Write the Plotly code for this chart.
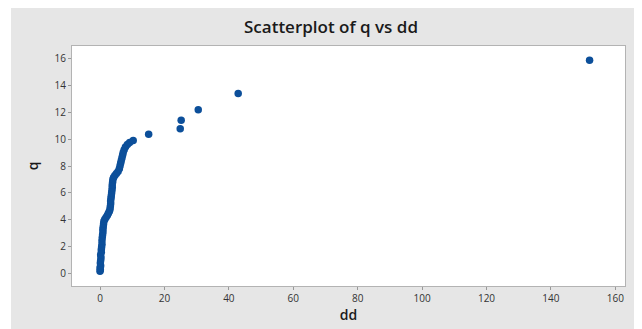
import plotly.graph_objects as go

dd = [0.0, 0.1, 0.0, 0.2, 0.1, 0.2, 0.3, 0.2, 0.4, 0.4, 0.5, 0.6, 0.6, 0.7, 0.8,
      0.9, 0.9, 1.0, 1.1, 1.2, 1.5, 1.9, 2.3, 2.6, 2.9, 3.1, 3.2, 3.3, 3.3, 3.4,
      3.5, 3.6, 3.7, 3.8, 3.8, 3.9, 4.0, 4.2, 4.6, 5.1, 5.6, 6.0, 6.2, 6.4, 6.6,
      6.8, 7.0, 7.2, 7.5, 7.9, 8.5, 9.2, 10.3, 15.1, 24.9, 25.2, 30.5, 42.9, 152.0]
q = [0.2, 0.3, 0.45, 0.6, 0.8, 1.0, 1.2, 1.4, 1.6, 1.8, 2.0, 2.2, 2.45, 2.7, 2.9,
     3.1, 3.3, 3.5, 3.7, 3.9, 4.05, 4.2, 4.35, 4.5, 4.65, 4.8, 5.0, 5.2, 5.4, 5.6,
     5.8, 6.0, 6.2, 6.4, 6.6, 6.8, 7.0, 7.15, 7.3, 7.45, 7.6, 7.8, 8.0, 8.2, 8.4,
     8.6, 8.8, 9.0, 9.2, 9.4, 9.6, 9.75, 9.9, 10.35, 10.77, 11.4, 12.18, 13.38, 15.85]

x_ticks = [0, 20, 40, 60, 80, 100, 120, 140, 160]
y_ticks = [0, 2, 4, 6, 8, 10, 12, 14, 16]

# page body has an 8px default margin; figure sized to fit the window
W, H = 634, 321
L, R, T, B = 64, 17, 38, 43
pw, ph = W - L - R, H - T - B

def px(xp):
    return (xp - L) / pw

def py(yp):
    return (H - B - yp) / ph

fig = go.Figure(go.Scatter(
    x=dd, y=q, mode="markers",
    marker=dict(size=7.5, color="#0c4f9a", line=dict(width=0)),
    hoverinfo="x+y",
))

gray = "#e6e6e6"
fig.update_layout(
    width=W, height=H,
    margin=dict(l=L, r=R, t=T, b=B),
    paper_bgcolor=gray,
    plot_bgcolor="white",
    showlegend=False,
    font=dict(family="Open Sans, Noto Sans, sans-serif", color="#333333"),
    title=dict(text="Scatterplot of q vs dd", x=323 / W, xanchor="center",
               y=1 - 19 / H, yanchor="middle", xref="container", yref="container",
               font=dict(size=17, color="#1a1a1a", weight=600)),
    shapes=[
        dict(type="rect", xref="paper", yref="paper", x0=px(0), x1=px(3),
             y0=py(H), y1=py(0), fillcolor="white", line=dict(width=0), layer="below"),
    ],
)
fig.update_xaxes(
    range=[-8.7, 163], tickvals=x_ticks, ticks="outside", ticklen=3,
    tickcolor="#999999", showgrid=False, zeroline=False,
    showline=True, linecolor="#b3b3b3", linewidth=1, mirror=True,
    tickfont=dict(size=10, color="#333333"),
    title=dict(text="dd", font=dict(size=14, color="#1a1a1a", weight=600), standoff=0),
)
fig.update_yaxes(
    range=[-0.9, 16.9], tickvals=y_ticks, ticks="outside", ticklen=3,
    tickcolor="#999999", showgrid=False, zeroline=False,
    showline=True, linecolor="#b3b3b3", linewidth=1, mirror=True,
    tickfont=dict(size=10, color="#333333"),
    title=dict(text="q", font=dict(size=14, color="#1a1a1a", weight=600), standoff=12),
)

fig.write_html("out.html")
